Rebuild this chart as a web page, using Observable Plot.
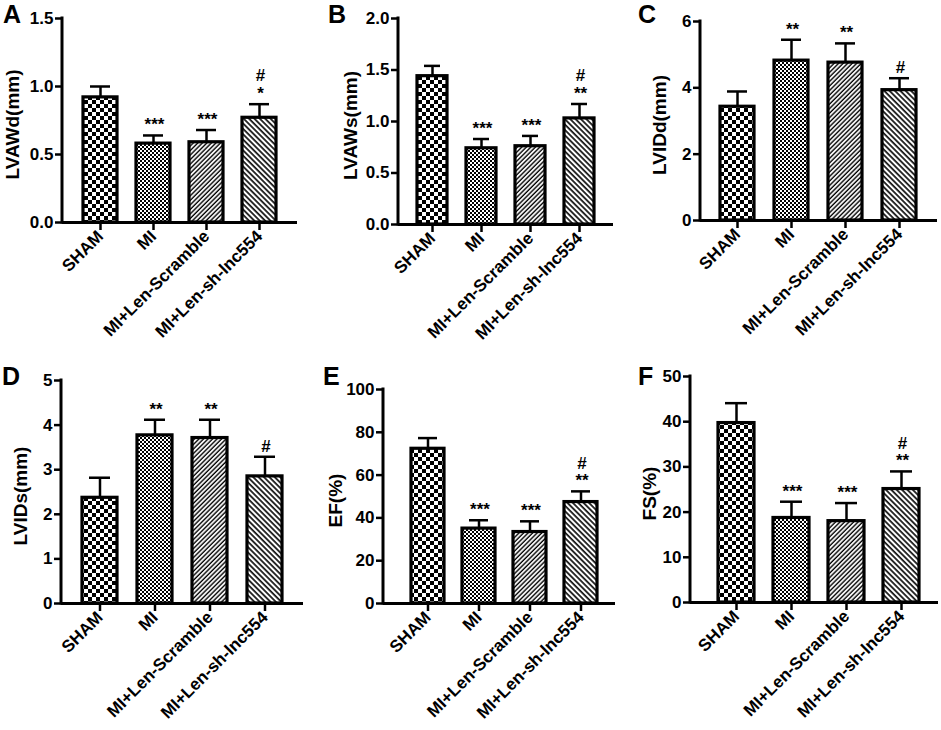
<!DOCTYPE html>
<html>
<head>
<meta charset="utf-8">
<script src="https://cdn.jsdelivr.net/npm/d3@7"></script>
<script src="https://cdn.jsdelivr.net/npm/@observablehq/plot@0.6"></script>
<style>
  body { margin: 0; background: #fff; }
  #wrap { position: relative; width: 941px; height: 730px; background: #fff; overflow: hidden; }
  #wrap svg.panel { position: absolute; }
  .letter { position: absolute; font: bold 25px "Liberation Sans", Arial, sans-serif; line-height: 25px; color: #000; }
</style>
</head>
<body>
<svg width="0" height="0" style="position:absolute">
  <defs>
    <pattern id="chkBig" width="8" height="8" patternUnits="userSpaceOnUse">
      <rect width="8" height="8" fill="#fff"/>
      <rect x="0" y="0" width="4" height="4" fill="#000"/>
      <rect x="4" y="4" width="4" height="4" fill="#000"/>
    </pattern>
    <pattern id="chkSmall" width="4" height="4" patternUnits="userSpaceOnUse">
      <rect width="4" height="4" fill="#fff"/>
      <rect x="0" y="0" width="2" height="2" fill="#000"/>
      <rect x="2" y="2" width="2" height="2" fill="#000"/>
    </pattern>
    <pattern id="diagFwd" width="3.2" height="3.2" patternUnits="userSpaceOnUse" patternTransform="rotate(45)">
      <rect width="3.2" height="3.2" fill="#fff"/>
      <line x1="1" y1="0" x2="1" y2="3.2" stroke="#000" stroke-width="1.4"/>
    </pattern>
    <pattern id="diagBack" width="3.8" height="3.8" patternUnits="userSpaceOnUse" patternTransform="rotate(-45)">
      <rect width="3.8" height="3.8" fill="#fff"/>
      <line x1="1" y1="0" x2="1" y2="3.8" stroke="#000" stroke-width="1.6"/>
    </pattern>
  </defs>
</svg>
<div id="wrap"></div>
<script>
// ---- data ----
const groups = ["SHAM", "MI", "MI+Len-Scramble", "MI+Len-sh-lnc554"];

const meanA = [0.92, 0.58, 0.59, 0.77];
const upperA = [1.00, 0.64, 0.68, 0.87];
const sigA = ["", "***", "***", "#\n*"];
const ticksA = [0, 0.5, 1.0, 1.5];

const meanB = [1.44, 0.74, 0.76, 1.03];
const upperB = [1.54, 0.83, 0.86, 1.17];
const sigB = ["", "***", "***", "#\n**"];
const ticksB = [0, 0.5, 1.0, 1.5, 2.0];

const meanC = [3.43, 4.82, 4.76, 3.93];
const upperC = [3.89, 5.45, 5.34, 4.29];
const sigC = ["", "**", "**", "#"];
const ticksC = [0, 2, 4, 6];

const meanD = [2.37, 3.77, 3.71, 2.85];
const upperD = [2.82, 4.12, 4.12, 3.29];
const sigD = ["", "**", "**", "#"];
const ticksD = [0, 1, 2, 3, 4, 5];

const meanE = [72.3, 35.0, 33.4, 47.4];
const upperE = [77.3, 38.9, 38.4, 52.4];
const sigE = ["", "***", "***", "#\n**"];
const ticksE = [0, 20, 40, 60, 80, 100];

const meanF = [39.7, 18.7, 18.0, 25.1];
const upperF = [44.1, 22.3, 22.0, 29.0];
const sigF = ["", "***", "***", "#\n**"];
const ticksF = [0, 10, 20, 30, 40, 50];

const labels = ["LVAWd(mm)", "LVAWs(mm)", "LVIDd(mm)", "LVIDs(mm)", "EF(%)", "FS(%)"];
const letters = ["A", "B", "C", "D", "E", "F"];

// ---- styles / layout ----
const fills = ["url(#chkBig)", "url(#chkSmall)", "url(#diagFwd)", "url(#diagBack)"];
const FONT = '"Liberation Sans", Arial, sans-serif';

const panels = [
  {mean: meanA, upper: upperA, sig: sigA, ticks: ticksA, fmt: ".1f", left: 0, top: 0, width: 310, mL: 62, mR: 13, mT: 18, mB: 143, pi: 0.365, po: 0.38, align: 0.5, lo: 57, lx: 3, ly: 2},
  {mean: meanB, upper: upperB, sig: sigB, ticks: ticksB, fmt: ".1f", left: 310, top: 0, width: 310, mL: 88, mR: 7, mT: 18, mB: 141, pi: 0.378, po: 0.35, align: 0.5, lo: 55, lx: 328, ly: 2},
  {mean: meanC, upper: upperC, sig: sigC, ticks: ticksC, fmt: "d", left: 620, top: 0, width: 321, mL: 80, mR: 4, mT: 21, mB: 145, pi: 0.37, po: 0.35, align: 0.5, lo: 48, lx: 638, ly: 2},
  {mean: meanD, upper: upperD, sig: sigD, ticks: ticksD, fmt: "d", left: 0, top: 365, width: 310, mL: 61, mR: 7, mT: 15, mB: 127, pi: 0.36, po: 0.35, align: 0.5, lo: 48, lx: 2, ly: 364},
  {mean: meanE, upper: upperE, sig: sigE, ticks: ticksE, fmt: "d", left: 310, top: 365, width: 310, mL: 73, mR: 5, mT: 24, mB: 127, pi: 0.357, po: 0.44, align: 0.6, lo: 55, lx: 323, ly: 364},
  {mean: meanF, upper: upperF, sig: sigF, ticks: ticksF, fmt: "d", left: 620, top: 365, width: 321, mL: 70, mR: 3, mT: 11, mB: 128, pi: 0.35, po: 0.42, align: 0.59, lo: 48, lx: 638, ly: 364}
];

const wrap = document.getElementById("wrap");

panels.forEach((p, k) => {
  const data = groups.map((g, i) => ({group: g, mean: p.mean[i], upper: p.upper[i], sig: p.sig[i], fill: fills[i]}));
  const ymax = p.ticks[p.ticks.length - 1];
  const yAxisLine = (index, scales, values, dim) => {
    const line = d3.create("svg:line")
      .attr("x1", dim.marginLeft).attr("x2", dim.marginLeft)
      .attr("y1", dim.marginTop - 1.5).attr("y2", dim.height - dim.marginBottom + 1.5)
      .attr("stroke", "#000").attr("stroke-width", 3);
    return line.node();
  };
  const svg = Plot.plot({
    width: p.width,
    height: 365,
    marginLeft: p.mL,
    marginRight: p.mR,
    marginTop: p.mT,
    marginBottom: p.mB,
    style: {fontFamily: FONT, fontWeight: "bold", color: "#000", background: "transparent", overflow: "visible"},
    x: {domain: groups, paddingInner: p.pi, paddingOuter: p.po, align: p.align, axis: null},
    y: {domain: [0, ymax], axis: null},
    color: {type: "identity"},
    marks: [
      Plot.ruleX(data, {x: "group", y1: "mean", y2: "upper", stroke: "#000", strokeWidth: 2.5}),
      Plot.tickY(data, {x: "group", y: "upper", stroke: "#000", strokeWidth: 2.5, inset: 7}),
      Plot.barY(data, {x: "group", y: "mean", fill: "fill", stroke: "#000", strokeWidth: 3.2, inset: 0}),
      Plot.text(data, {x: "group", y: "upper", text: "sig", lineAnchor: "bottom", dy: -5, dx: 1, fontSize: 17, fontWeight: "bold", lineHeight: 1.05, fill: "#000", ariaLabel: "sig"}),
      Plot.ruleY([0], {stroke: "#000", strokeWidth: 3}),
      yAxisLine,
      Plot.axisY({ticks: p.ticks, tickFormat: d3.format(p.fmt), tickSize: 7, tickPadding: 2, strokeWidth: 2.5, fontSize: 17, fontWeight: "bold", label: null}),
      Plot.axisX({tickRotate: -45, tickSize: 8, tickPadding: 3, strokeWidth: 2.5, fontSize: 17, fontWeight: "bold", label: null}),
      Plot.text([labels[k]], {frameAnchor: "left", textAnchor: "middle", rotate: -90, dx: -p.lo, dy: 4, lineAnchor: "top", fontSize: 19, fontWeight: "bold", fill: "#000"})
    ]
  });
  svg.classList.add("panel");
  svg.style.left = p.left + "px";
  svg.style.top = p.top + "px";
  svg.querySelectorAll('g[aria-label="sig"] text').forEach(t => t.setAttribute("letter-spacing", "1.6"));
  wrap.appendChild(svg);

  const L = document.createElement("div");
  L.className = "letter";
  L.textContent = letters[k];
  L.style.left = p.lx + "px";
  L.style.top = p.ly + "px";
  wrap.appendChild(L);
});
</script>
</body>
</html>
